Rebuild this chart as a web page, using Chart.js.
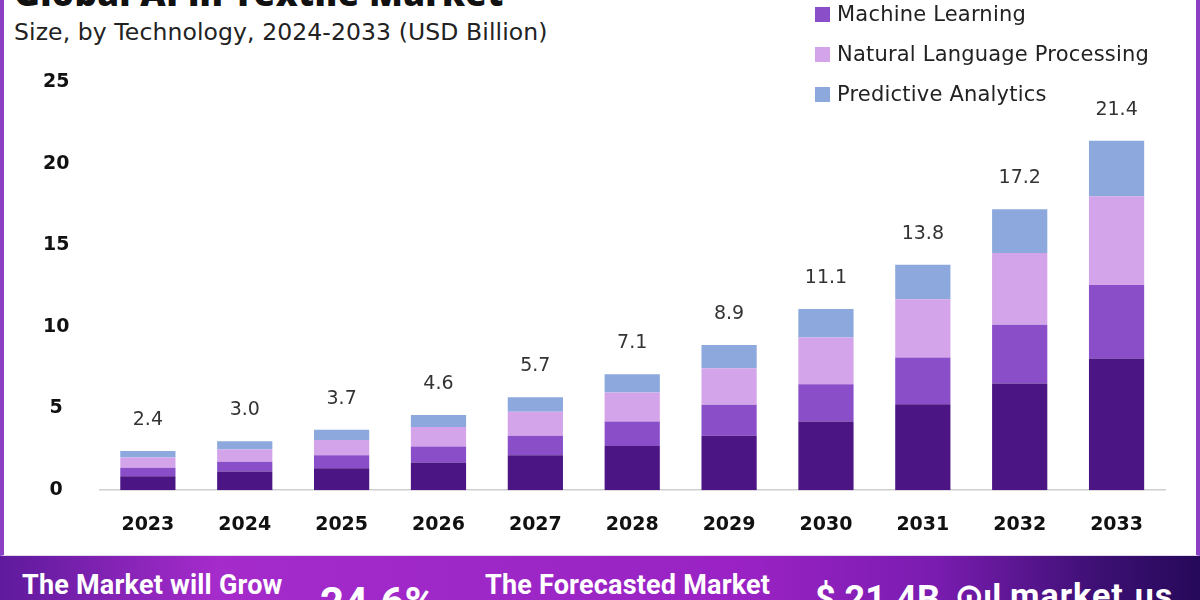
<!doctype html>
<html>
<head>
<meta charset="utf-8">
<title>Global AI in Textile Market</title>
<script src="https://cdn.jsdelivr.net/npm/chart.js"></script>
<style>
  body{margin:0;width:1200px;height:600px;overflow:hidden;background:#fff;font-family:"DejaVu Sans",Arial,sans-serif;position:relative}
  #card{position:absolute;left:0;top:0;width:1200px;height:556px;background:#fff;border-left:4px solid #8b3fc4;border-right:4px solid #8b3fc4;border-bottom:1px solid #e4d8ee;box-sizing:border-box}
  #title{position:absolute;left:14px;top:-31px;font-family:"Open Sans",Arial,sans-serif;font-size:35px;font-weight:800;color:#111;white-space:nowrap;letter-spacing:0.3px}
  #subtitle{position:absolute;left:14px;top:18px;font-size:23.5px;color:#222;white-space:nowrap;letter-spacing:0.1px}
  #wrap{position:absolute;left:0;top:0;width:1200px;height:577px}
  #legend{position:absolute;left:815px;top:-46px;margin:0;padding:0;list-style:none}
  #legend li{height:40px;display:flex;align-items:center;font-size:21px;letter-spacing:0.2px;color:#222;white-space:nowrap}
  #legend span{display:inline-block;width:15px;height:15px;margin-right:7px}
  #banner{position:absolute;left:0;top:556px;width:1200px;height:44px;overflow:hidden;
    background:linear-gradient(90deg,#5e1a9c 0%,#a52bcb 18%,#9c26c6 45%,#9a22c4 62%,#7a1cb0 78%,#3b0f72 92%,#26095a 100%)}
  .bt{position:absolute;color:#fff;font-family:Roboto,Arial,sans-serif;font-weight:700;white-space:nowrap;line-height:1}
</style>
</head>
<body>
<div id="card"></div>
<div id="title">Global AI in Textile Market</div>
<div id="subtitle">Size, by Technology, 2024-2033 (USD Billion)</div>
<div id="wrap"><canvas id="chart"></canvas></div>
<ul id="legend"></ul>
<div id="banner">
  <div class="bt" style="left:22px;top:16px;font-size:27px;letter-spacing:0.2px">The Market will Grow</div>
  <div class="bt" style="left:320px;top:26px;font-size:42px">24.6%</div>
  <div class="bt" style="left:485px;top:16px;font-size:27px;letter-spacing:0.2px">The Forecasted Market</div>
  <div class="bt" style="left:815px;top:25px;font-size:36px">$ 21.4B</div>
  <div class="bt" style="left:955px;top:23px;font-size:34px">&#x2299;ıl</div>
  <div class="bt" style="left:1010px;top:22px;font-size:34px;letter-spacing:1px">market.us</div>
</div>
<script>
// chart values (USD Billion)
const years = ['2023', '2024', '2025', '2026', '2027', '2028', '2029', '2030', '2031', '2032', '2033'];
const totals = [2.4, 3.0, 3.7, 4.6, 5.7, 7.1, 8.9, 11.1, 13.8, 17.2, 21.4];
const computerVision = [0.86, 1.15, 1.34, 1.70, 2.14, 2.70, 3.34, 4.20, 5.27, 6.54, 8.06];
const machineLearning = [0.51, 0.59, 0.80, 0.97, 1.19, 1.50, 1.90, 2.29, 2.86, 3.60, 4.51];
const nlp = [0.64, 0.75, 0.94, 1.20, 1.48, 1.78, 2.23, 2.86, 3.57, 4.39, 5.44];
const predictive = [0.39, 0.51, 0.62, 0.73, 0.89, 1.12, 1.43, 1.75, 2.10, 2.67, 3.39];
const yTicks = [0, 5, 10, 15, 20, 25];

const series = [
  { label: 'Computer Vision', data: computerVision, color: '#4b1584' },
  { label: 'Machine Learning', data: machineLearning, color: '#8a4ec9' },
  { label: 'Natural Language Processing', data: nlp, color: '#d3a4e9' },
  { label: 'Predictive Analytics', data: predictive, color: '#8ca8dc' }
];

// legend list (first entry sits above the visible area, like the source)
const legendEl = document.getElementById('legend');
series.forEach(s => {
  const li = document.createElement('li');
  li.innerHTML = '<span style="background:' + s.color + '"></span>' + s.label;
  legendEl.appendChild(li);
});

// totals written above each stack
const totalLabels = {
  id: 'totalLabels',
  afterDatasetsDraw(chart) {
    const ctx = chart.ctx;
    const meta = chart.getDatasetMeta(chart.data.datasets.length - 1);
    ctx.save();
    ctx.font = '19px "DejaVu Sans", Arial, sans-serif';
    ctx.fillStyle = '#333';
    ctx.textAlign = 'center';
    ctx.textBaseline = 'middle';
    meta.data.forEach((bar, i) => {
      ctx.fillText(totals[i].toFixed(1), bar.x, bar.y - 31);
    });
    ctx.restore();
  }
};

new Chart(document.getElementById('chart'), {
  type: 'bar',
  data: {
    labels: years,
    datasets: series.map(s => ({
      label: s.label,
      data: s.data,
      backgroundColor: s.color,
      borderWidth: 0,
      categoryPercentage: 1,
      barPercentage: 0.57
    }))
  },
  options: {
    responsive: true,
    maintainAspectRatio: false,
    animation: false,
    layout: { padding: { top: 82, left: 13, right: 35, bottom: 18 } },
    plugins: { legend: { display: false }, tooltip: { enabled: false } },
    scales: {
      x: {
        stacked: true,
        grid: { display: false, drawTicks: false },
        border: { display: true, color: '#cfcfcf', width: 1.5 },
        ticks: { color: '#111', padding: 23, font: { family: '"DejaVu Sans", Arial, sans-serif', size: 19, weight: 'bold' } }
      },
      y: {
        stacked: true,
        min: 0,
        max: 25,
        afterBuildTicks: axis => { axis.ticks = yTicks.map(v => ({ value: v })); },
        grid: { display: false, drawTicks: false },
        border: { display: false },
        ticks: { color: '#111', padding: 30, crossAlign: 'center', font: { family: '"DejaVu Sans", Arial, sans-serif', size: 19, weight: 'bold' } }
      }
    }
  },
  plugins: [totalLabels]
});
</script>
</body>
</html>
